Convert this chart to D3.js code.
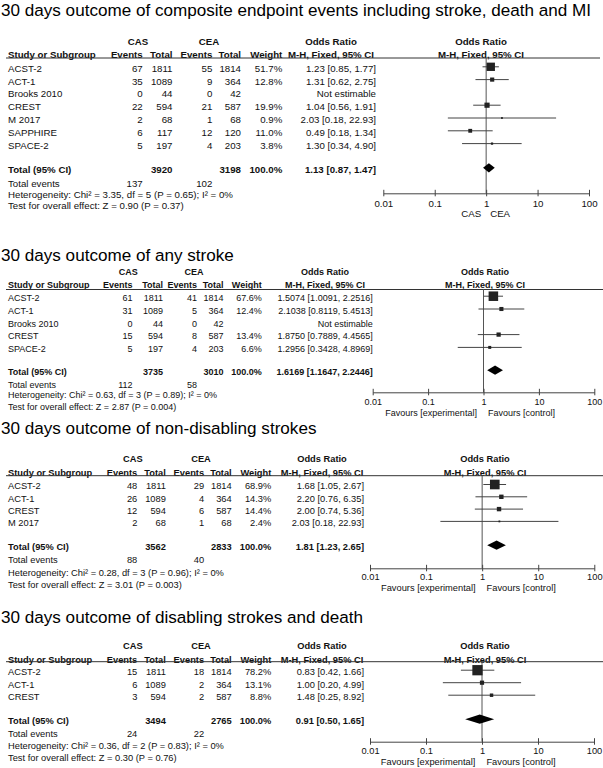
<!DOCTYPE html>
<html><head><meta charset="utf-8">
<script src="https://cdn.jsdelivr.net/npm/d3@7"></script>
<style>
body{margin:0;background:#fff;}
svg{display:block;font-family:"Liberation Sans",Arial,Helvetica,sans-serif;}
</style>
</head><body>
<svg id="chart" width="603" height="768"></svg>
<script>
// ---------------- DATA ----------------
const titles = [
  "30 days outcome of composite endpoint events including stroke, death and MI",
  "30 days outcome of any stroke",
  "30 days outcome of non-disabling strokes",
  "30 days outcome of disabling strokes and death"
];
const groupLabels = ["CAS", "CEA"];
const orHeader = "Odds Ratio";
const colHeaders = ["Events", "Total", "Events", "Total", "Weight"];
const studyHeader = "Study or Subgroup";
const mhHeader = "M-H, Fixed, 95% CI";
const tickValues = [0.01, 0.1, 1, 10, 100];
const tickLabels = ["0.01", "0.1", "1", "10", "100"];
const favoursPanel1 = ["CAS", "CEA"];
const favoursOther = ["Favours [experimental]", "Favours [control]"];

// Panel 1: composite endpoint
const studies1 = ["ACST-2", "ACT-1", "Brooks 2010", "CREST", "M 2017", "SAPPHIRE", "SPACE-2"];
const casEvents1 = [67, 35, 0, 22, 2, 6, 5];
const casTotal1 = [1811, 1089, 44, 594, 68, 117, 197];
const ceaEvents1 = [55, 9, 0, 21, 1, 12, 4];
const ceaTotal1 = [1814, 364, 42, 587, 68, 120, 203];
const weight1 = [51.7, 12.8, null, 19.9, 0.9, 11.0, 3.8];
const or1 = [1.23, 1.31, null, 1.04, 2.03, 0.49, 1.30];
const lo1 = [0.85, 0.62, null, 0.56, 0.18, 0.18, 0.34];
const hi1 = [1.77, 2.75, null, 1.91, 22.93, 1.34, 4.90];
const total1 = [3920, 3198, 1.13, 0.87, 1.47];
const totalEvents1 = [137, 102];
const stats1 = ["Heterogeneity: Chi\u00b2 = 3.35, df = 5 (P = 0.65); I\u00b2 = 0%", "Test for overall effect: Z = 0.90 (P = 0.37)"];

// Panel 2: any stroke
const studies2 = ["ACST-2", "ACT-1", "Brooks 2010", "CREST", "SPACE-2"];
const casEvents2 = [61, 31, 0, 15, 5];
const casTotal2 = [1811, 1089, 44, 594, 197];
const ceaEvents2 = [41, 5, 0, 8, 4];
const ceaTotal2 = [1814, 364, 42, 587, 203];
const weight2 = [67.6, 12.4, null, 13.4, 6.6];
const or2 = [1.5074, 2.1038, null, 1.8750, 1.2956];
const lo2 = [1.0091, 0.8119, null, 0.7889, 0.3428];
const hi2 = [2.2516, 5.4513, null, 4.4565, 4.8969];
const total2 = [3735, 3010, 1.6169, 1.1647, 2.2446];
const totalEvents2 = [112, 58];
const stats2 = ["Heterogeneity: Chi\u00b2 = 0.63, df = 3 (P = 0.89); I\u00b2 = 0%", "Test for overall effect: Z = 2.87 (P = 0.004)"];

// Panel 3: non-disabling strokes
const studies3 = ["ACST-2", "ACT-1", "CREST", "M 2017"];
const casEvents3 = [48, 26, 12, 2];
const casTotal3 = [1811, 1089, 594, 68];
const ceaEvents3 = [29, 4, 6, 1];
const ceaTotal3 = [1814, 364, 587, 68];
const weight3 = [68.9, 14.3, 14.4, 2.4];
const or3 = [1.68, 2.20, 2.00, 2.03];
const lo3 = [1.05, 0.76, 0.74, 0.18];
const hi3 = [2.67, 6.35, 5.36, 22.93];
const total3 = [3562, 2833, 1.81, 1.23, 2.65];
const totalEvents3 = [88, 40];
const stats3 = ["Heterogeneity: Chi\u00b2 = 0.28, df = 3 (P = 0.96); I\u00b2 = 0%", "Test for overall effect: Z = 3.01 (P = 0.003)"];

// Panel 4: disabling strokes and death
const studies4 = ["ACST-2", "ACT-1", "CREST"];
const casEvents4 = [15, 6, 3];
const casTotal4 = [1811, 1089, 594];
const ceaEvents4 = [18, 2, 2];
const ceaTotal4 = [1814, 364, 587];
const weight4 = [78.2, 13.1, 8.8];
const or4 = [0.83, 1.00, 1.48];
const lo4 = [0.42, 0.20, 0.25];
const hi4 = [1.66, 4.99, 8.92];
const total4 = [3494, 2765, 0.91, 0.50, 1.65];
const totalEvents4 = [24, 22];
const stats4 = ["Heterogeneity: Chi\u00b2 = 0.36, df = 2 (P = 0.83); I\u00b2 = 0%", "Test for overall effect: Z = 0.30 (P = 0.76)"];

const decimals = [2, 4, 2, 2];

// ---------------- LAYOUT ----------------
const layouts = [
  {fs:9.7, titleFs:17.1, titleY:15.6, casY:41.7, studyY:54.3, lineY:58, lineX2:600, row0:68.3, rowH:12.8,
   totalY:169.3, evY:183.3, hetY:194.3, testY:205.7, axisY:193.3, tickY:204, favY:214,
   studyX:8, cols:[142.7,172.5,212.3,241,282.3,376], casX:138, ceaX:209, orHX:331,
   px0:383.3, px1:589, plotHX:481, gapL:5, gapR:4},
  {fs:9.0, titleFs:17.1, titleY:261.2, casY:271.7, studyY:284.3, lineY:289.5, lineX2:603, row0:297.7, rowH:12.8,
   totalY:371.7, evY:384.3, hetY:395, testY:406.7, axisY:392.3, tickY:401.7, favY:412.3,
   studyX:8, cols:[132.6,163,197,223.5,261.7,372.7], casX:128.3, ceaX:194, orHX:325,
   px0:372.7, px1:594.3, plotHX:485, gapL:6.6, gapR:4.4},
  {fs:9.3, titleFs:17.1, titleY:433.8, casY:459, studyY:472.7, lineY:475.7, lineX2:603, row0:486, rowH:12.3,
   totalY:546.7, evY:560, hetY:572.3, testY:585, axisY:568.3, tickY:576.7, favY:587.7,
   studyX:8, cols:[137.3,165.9,204.1,231.7,271.3,364], casX:132.8, ceaX:201, orHX:322,
   px0:370, px1:594.3, plotHX:485, gapL:6.6, gapR:4.4},
  {fs:9.3, titleFs:17.1, titleY:622.8, casY:646, studyY:659.3, lineY:661.7, lineX2:603, row0:671.7, rowH:12.5,
   totalY:720.7, evY:733.3, hetY:745.7, testY:757.7, axisY:741.7, tickY:750.7, favY:761.7,
   studyX:8, cols:[137.3,165.9,204.1,231.7,271.3,364], casX:132.8, ceaX:201, orHX:322,
   px0:370, px1:594, plotHX:485, gapL:6.6, gapR:4.4}
];

const panels = [
  {title:titles[0], studies:studies1, casEv:casEvents1, casN:casTotal1, ceaEv:ceaEvents1, ceaN:ceaTotal1, w:weight1, or:or1, lo:lo1, hi:hi1, total:total1, tev:totalEvents1, stats:stats1, dec:decimals[0], fav:favoursPanel1},
  {title:titles[1], studies:studies2, casEv:casEvents2, casN:casTotal2, ceaEv:ceaEvents2, ceaN:ceaTotal2, w:weight2, or:or2, lo:lo2, hi:hi2, total:total2, tev:totalEvents2, stats:stats2, dec:decimals[1], fav:favoursOther},
  {title:titles[2], studies:studies3, casEv:casEvents3, casN:casTotal3, ceaEv:ceaEvents3, ceaN:ceaTotal3, w:weight3, or:or3, lo:lo3, hi:hi3, total:total3, tev:totalEvents3, stats:stats3, dec:decimals[2], fav:favoursOther},
  {title:titles[3], studies:studies4, casEv:casEvents4, casN:casTotal4, ceaEv:ceaEvents4, ceaN:ceaTotal4, w:weight4, or:or4, lo:lo4, hi:hi4, total:total4, tev:totalEvents4, stats:stats4, dec:decimals[3], fav:favoursOther}
];

// ---------------- DRAW ----------------
const svg = d3.select("#chart");
const TXT = "#111";
const LINE = "#333";
const SQ = "#222";

panels.forEach((p, pi) => {
  const L = layouts[pi];
  const g = svg.append("g");
  const fs = L.fs;
  const fmtOR = d3.format("." + p.dec + "f");
  const orStr = (o, l, h) => fmtOR(o) + " [" + fmtOR(l) + ", " + fmtOR(h) + "]";

  const txt = (x, yc, s, anchor, bold, size) => {
    const f = size || fs;
    return g.append("text").attr("x", x).attr("y", yc + f * 0.36)
      .attr("font-size", f).attr("text-anchor", anchor)
      .attr("font-weight", bold ? "bold" : "normal").attr("fill", TXT).text(s);
  };

  // title
  g.append("text").attr("x", 1).attr("y", L.titleY).attr("font-size", L.titleFs).attr("fill", "#000").text(p.title);

  // headers
  txt(L.casX, L.casY, groupLabels[0], "middle", true);
  txt(L.ceaX, L.casY, groupLabels[1], "middle", true);
  txt(L.orHX, L.casY, orHeader, "middle", true);
  txt(L.plotHX, L.casY, orHeader, "middle", true);
  txt(L.studyX, L.studyY, studyHeader, "start", true);
  colHeaders.forEach((h, i) => txt(L.cols[i], L.studyY, h, "end", true));
  txt(L.orHX, L.studyY, mhHeader, "middle", true);
  txt(L.plotHX, L.studyY, mhHeader, "middle", true);
  g.append("line").attr("x1", 6).attr("x2", L.lineX2).attr("y1", L.lineY).attr("y2", L.lineY)
    .attr("stroke", LINE).attr("stroke-width", 1);

  // scales
  const y = d3.scalePoint().domain(p.studies).range([L.row0, L.row0 + (p.studies.length - 1) * L.rowH]);
  const x = d3.scaleLog().domain([0.01, 100]).range([L.px0, L.px1]);
  const side = d3.scaleSqrt().domain([0, 100]).range([0, 11.6]);

  // table rows
  p.studies.forEach((s, i) => {
    const yc = y(s);
    txt(L.studyX, yc, s, "start", false);
    txt(L.cols[0], yc, p.casEv[i], "end", false);
    txt(L.cols[1], yc, p.casN[i], "end", false);
    txt(L.cols[2], yc, p.ceaEv[i], "end", false);
    txt(L.cols[3], yc, p.ceaN[i], "end", false);
    if (p.w[i] != null) txt(L.cols[4], yc, p.w[i].toFixed(1) + "%", "end", false);
    txt(L.cols[5], yc, p.or[i] != null ? orStr(p.or[i], p.lo[i], p.hi[i]) : "Not estimable", "end", false);
  });

  // totals
  txt(L.studyX, L.totalY, "Total (95% CI)", "start", true);
  txt(L.cols[1], L.totalY, p.total[0], "end", true);
  txt(L.cols[3], L.totalY, p.total[1], "end", true);
  txt(L.cols[4], L.totalY, "100.0%", "end", true);
  txt(L.cols[5], L.totalY, orStr(p.total[2], p.total[3], p.total[4]), "end", true);
  txt(L.studyX, L.evY, "Total events", "start", false);
  txt(L.cols[0], L.evY, p.tev[0], "end", false);
  txt(L.cols[2], L.evY, p.tev[1], "end", false);
  txt(L.studyX, L.hetY, p.stats[0], "start", false);
  txt(L.studyX, L.testY, p.stats[1], "start", false);

  // null line
  g.append("line").attr("x1", x(1)).attr("x2", x(1)).attr("y1", L.lineY).attr("y2", L.axisY)
    .attr("stroke", "#555").attr("stroke-width", 1);

  // CIs & squares
  const dy = -1.5;
  p.studies.forEach((s, i) => {
    if (p.or[i] == null) return;
    const yc = y(s) + dy;
    g.append("line").attr("x1", x(p.lo[i])).attr("x2", x(p.hi[i])).attr("y1", yc).attr("y2", yc)
      .attr("stroke", "#444").attr("stroke-width", 1);
    const sd = Math.max(1.8, side(p.w[i]));
    g.append("rect").attr("x", x(p.or[i]) - sd / 2).attr("y", yc - sd / 2)
      .attr("width", sd).attr("height", sd).attr("fill", SQ);
  });

  // diamond
  const dyc = L.totalY + dy;
  const dh = 4.6;
  g.append("path").attr("d", d3.line()([
    [x(p.total[3]), dyc], [x(p.total[2]), dyc - dh], [x(p.total[4]), dyc], [x(p.total[2]), dyc + dh]
  ]) + "Z").attr("fill", "#000");

  // axis
  const ax = g.append("g").attr("transform", `translate(0,${L.axisY})`)
    .call(d3.axisBottom(x).tickValues(tickValues).tickFormat((d, i) => tickLabels[i]).tickSizeOuter(0).tickSizeInner(3));
  ax.select(".domain").attr("stroke", "#444");
  ax.selectAll(".tick line").attr("y1", -3.5).attr("y2", 3).attr("stroke", "#444");
  ax.selectAll(".tick text").attr("y", L.tickY - L.axisY + fs * 0.36).attr("dy", null)
    .attr("font-size", fs).attr("font-family", "Liberation Sans, Arial, sans-serif").attr("fill", TXT);

  // favours labels
  txt(x(1) - L.gapL, L.favY, p.fav[0], "end", false);
  txt(x(1) + L.gapR, L.favY, p.fav[1], "start", false);
});
</script>
</body></html>
